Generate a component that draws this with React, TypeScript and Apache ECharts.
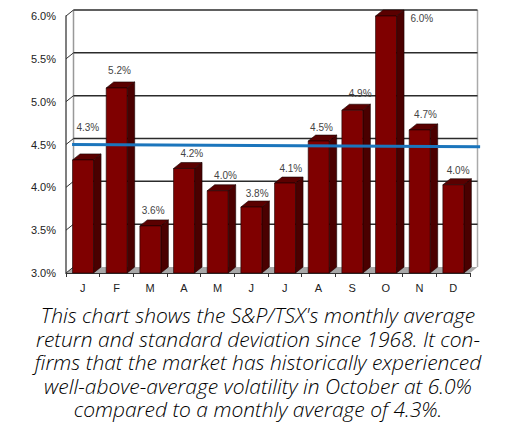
import React, { useEffect, useRef } from "react";
import * as echarts from "echarts";

const months = ["J", "F", "M", "A", "M", "J", "J", "A", "S", "O", "N", "D"];
const barValues = [4.32, 5.16, 3.55, 4.22, 3.96, 3.77, 4.05, 4.54, 4.9, 6.0, 4.67, 4.03];
const barLabels = ["4.3%", "5.2%", "3.6%", "4.2%", "4.0%", "3.8%", "4.1%", "4.5%", "4.9%", "6.0%", "4.7%", "4.0%"];
const averageLine = [[0.015, 4.5], [1.025, 4.475]];
const yTicks = [3, 3.5, 4, 4.5, 5, 5.5, 6];
const captionLines = [
  "This chart shows the S&P/TSX's monthly average",
  "return and standard deviation since 1968. It con-",
  "firms that the market has historically experienced",
  "well-above-average volatility in October at 6.0%",
  "compared to a monthly average of 4.3%.",
];

const DX = 7.5;
const DY = 6;
const LABEL_SHIFT: Record<number, [number, number]> = { 0: [5, -32], 2: [3, -15], 3: [8, -15], 4: [8, -15], 5: [6, -14], 6: [6, -15], 7: [3, -14], 8: [8, -17], 9: [36, 2], 10: [6, -15], 11: [5, -14] };

export default function App() {
  const ref = useRef<HTMLDivElement>(null);
  useEffect(() => {
    const chart = echarts.init(ref.current!, undefined, { renderer: "svg" });
    chart.setOption({
      animation: false,
      backgroundColor: "#fff",
      grid: [{ left: 66, top: 16, width: 404, height: 257 }],
      xAxis: [
        {
          type: "category",
          data: months,
          axisLine: { lineStyle: { color: "#333", width: 1 } },
          axisTick: { show: true, length: 4, alignWithLabel: false, lineStyle: { color: "#333" } },
          axisLabel: { color: "#222", fontFamily: "Liberation Sans", fontSize: 11, margin: 9 },
        },
        { type: "value", min: 0, max: 1, show: false },
      ],
      yAxis: {
        type: "value",
        min: 3,
        max: 6,
        interval: 0.5,
        axisLine: { show: true, lineStyle: { color: "#555", width: 1.5 } },
        axisTick: { show: false },
        splitLine: { show: false },
        axisLabel: {
          color: "#222",
          fontFamily: "Liberation Sans",
          fontSize: 11,
          margin: 10,
          formatter: (v: number) => v.toFixed(1) + "%",
        },
      },
      series: [
        {
          type: "custom",
          silent: true,
          z: 1,
          clip: false,
          data: [0],
          renderItem: (_p: any, api: any) => {
            const band = api.size([1, 0])[0];
            const [c0, y0] = api.coord([0, 3]);
            const x0 = c0 - band / 2;
            const x1 = api.coord([11, 3])[0] + band / 2;
            const yTop = api.coord([0, 6])[1] - DY;
            const children: any[] = [
              {
                type: "polygon",
                shape: { points: [[x0, y0], [x1, y0], [x1 + DX, y0 - DY], [x0 + DX, y0 - DY]] },
                style: { fill: "#a8a8a8", stroke: "none" },
              },
              {
                type: "line",
                shape: { x1: x0 + DX, y1: y0 - DY, x2: x0 + DX, y2: yTop },
                style: { stroke: "#999", lineWidth: 1.5 },
              },
              {
                type: "line",
                shape: { x1: x1 + DX, y1: y0 - DY, x2: x1 + DX, y2: yTop },
                style: { stroke: "#aaa", lineWidth: 1.5 },
              },
            ];
            yTicks.forEach((t) => {
              const y = api.coord([0, t])[1];
              children.push({
                type: "line",
                shape: { x1: x0, y1: y, x2: x0 + DX, y2: y - DY },
                style: { stroke: "#333", lineWidth: 1 },
              });
              if (t > 3) {
                children.push({
                  type: "line",
                  shape: { x1: x0 + DX, y1: y - DY, x2: x1 + DX, y2: y - DY },
                  style: { stroke: "#2b2b2b", lineWidth: 1.5 },
                });
              }
            });
            return { type: "group", children };
          },
        },
        {
          type: "custom",
          silent: true,
          z: 2,
          clip: false,
          data: barValues.map((v, i) => [i, v]),
          renderItem: (p: any, api: any) => {
            const i = p.dataIndex;
            const [cx, top] = api.coord([api.value(0), api.value(1)]);
            const [, base] = api.coord([api.value(0), 3]);
            const w = 21;
            const l = cx - w / 2 + 0.2;
            const r = l + w;
            const border = { stroke: "#1a0000", lineWidth: 0.6 };
            const shift = LABEL_SHIFT[i] || [3, -17];
            return {
              type: "group",
              children: [
                {
                  type: "polygon",
                  shape: { points: [[r, top], [r + DX, top - DY], [r + DX, base - DY], [r, base]] },
                  style: { fill: "#4a0000", ...border },
                },
                {
                  type: "polygon",
                  shape: { points: [[l, top], [l + DX, top - DY], [r + DX, top - DY], [r, top]] },
                  style: { fill: "#5a0000", ...border },
                },
                {
                  type: "rect",
                  shape: { x: l, y: top, width: w, height: base - top },
                  style: { fill: "#7f0000", ...border },
                },
                {
                  type: "text",
                  x: cx + shift[0],
                  y: top + shift[1],
                  style: {
                    text: barLabels[i],
                    fill: "#444",
                    font: "10px 'Liberation Sans'",
                    align: "center",
                    verticalAlign: "middle",
                  },
                },
              ],
            };
          },
        },
        {
          type: "custom",
          xAxisIndex: 1,
          yAxisIndex: 0,
          z: 3,
          clip: false,
          silent: true,
          data: [0],
          renderItem: (_p: any, api: any) => ({
            type: "polyline",
            shape: { points: averageLine.map((pt) => api.coord(pt)) },
            style: { stroke: "#1b75bc", lineWidth: 3, fill: "none" },
          }),
        },
      ],
      graphic: [
        {
          type: "text",
          x: 258,
          y: 362,
          style: {
            text: captionLines.join("\n"),
            fill: "#000",
            font: "italic 300 21px 'Open Sans'",
            lineHeight: 23.5,
            align: "center",
            verticalAlign: "middle",
          },
        },
      ],
    });
    return () => chart.dispose();
  }, []);
  return <div ref={ref} style={{ width: 507, height: 430, position: "absolute", left: 0, top: 0 }} />;
}
